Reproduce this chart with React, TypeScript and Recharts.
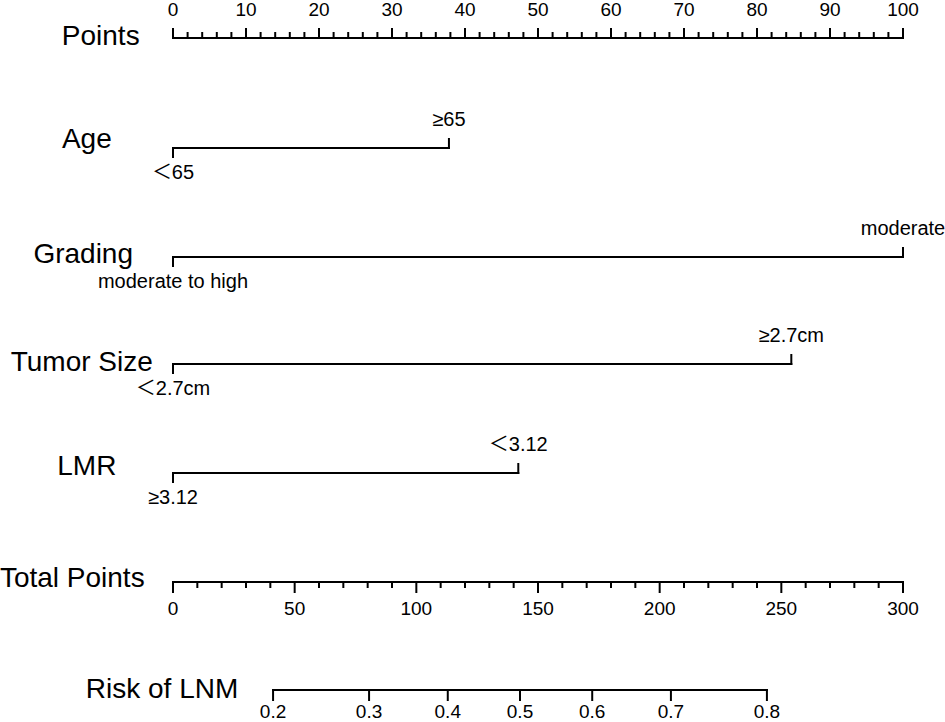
import React from 'react';
import { LineChart, XAxis, YAxis, ReferenceLine, ReferenceDot } from 'recharts';

// ---- data ----
const pointsTicks = [0, 10, 20, 30, 40, 50, 60, 70, 80, 90, 100];
const variables = ['Age', 'Grading', 'Tumor Size', 'LMR'];
const lowLabels = ['＜65', 'moderate to high', '＜2.7cm', '≥3.12'];
const highLabels = ['≥65', 'moderate', '≥2.7cm', '＜3.12'];
const highPoints = [37.8, 100, 84.7, 47.3];
const totalTicks = [0, 50, 100, 150, 200, 250, 300];
const riskTicks = [0.2, 0.3, 0.4, 0.5, 0.6, 0.7, 0.8];
const riskIntercept = 142.6; // total points at risk 0.5
const riskSlope = 73.2; // total points per logit unit

// ---- layout ----
const W = 945;
const H = 722;
const FONT = "Arial, 'Liberation Sans', 'Noto Sans CJK SC', sans-serif";
const rowY = { points: 38, vars: [148, 257, 364, 473], total: 582, risk: 690 };
const nameX = { points: -9.9, vars: [-11.8, -12.3, -12.5, -11.8], total: -13.8, risk: -1.5 };
const nameY = { points: 35, vars: [138, 253, 361, 465], total: 577, risk: 688 };
const NAME_SIZE = 28;
const LABEL_SIZE = 20;
const TICK_SIZE = 19;
const SW = 2;

const toX = (tp: number) => tp / 3;
const riskX = (p: number) => toX(riskIntercept + riskSlope * Math.log(p / (1 - p)));

const seg = (key: string, x1: number, y1: number, x2: number, y2: number) => (
  <ReferenceLine
    key={key}
    segment={[{ x: x1, y: y1 }, { x: x2, y: y2 }]}
    stroke="#000"
    strokeWidth={SW}
    strokeLinecap="square"
    ifOverflow="visible"
  />
);

const txt = (key: string, x: number, y: number, value: string, size: number) => (
  <ReferenceDot
    key={key}
    x={x}
    y={y}
    r={0}
    stroke="none"
    fill="none"
    ifOverflow="visible"
    label={{ value, position: 'center', fill: '#000', fontSize: size, fontFamily: FONT }}
  />
);

export default function App() {
  const els: React.ReactNode[] = [];
  // Points axis
  els.push(seg('p-line', 0, rowY.points, 100, rowY.points));
  for (let v = 0; v <= 100; v += 2) {
    const major = v % 10 === 0;
    els.push(seg('p-t' + v, v, rowY.points, v, rowY.points - (major ? 9 : 5)));
  }
  pointsTicks.forEach((v) => els.push(txt('p-l' + v, v, 9, String(v), TICK_SIZE)));
  els.push(txt('p-name', nameX.points, nameY.points, 'Points', NAME_SIZE));

  // variables
  variables.forEach((name, i) => {
    const y = rowY.vars[i];
    const hx = highPoints[i];
    els.push(seg('v-line' + i, 0, y, hx, y));
    els.push(seg('v-lt' + i, 0, y, 0, y + 9));
    els.push(seg('v-ht' + i, hx, y, hx, y - 9));
    els.push(txt('v-low' + i, 0, y + 24, lowLabels[i], LABEL_SIZE));
    els.push(txt('v-high' + i, hx, y - 29, highLabels[i], LABEL_SIZE));
    els.push(txt('v-name' + i, nameX.vars[i], nameY.vars[i], name, NAME_SIZE));
  });

  // Total points axis
  els.push(seg('t-line', 0, rowY.total, 100, rowY.total));
  for (let v = 0; v <= 300; v += 10) {
    const major = v % 50 === 0;
    els.push(seg('t-t' + v, toX(v), rowY.total, toX(v), rowY.total + (major ? 10 : 5)));
  }
  totalTicks.forEach((v) => els.push(txt('t-l' + v, toX(v), rowY.total + 26, String(v), TICK_SIZE)));
  els.push(txt('t-name', nameX.total, nameY.total, 'Total Points', NAME_SIZE));

  // Risk axis
  els.push(seg('r-line', riskX(riskTicks[0]), rowY.risk, riskX(riskTicks[riskTicks.length - 1]), rowY.risk));
  riskTicks.forEach((p) => {
    els.push(seg('r-t' + p, riskX(p), rowY.risk, riskX(p), rowY.risk + 10));
    els.push(txt('r-l' + p, riskX(p), rowY.risk + 21, p.toFixed(1), TICK_SIZE));
  });
  els.push(txt('r-name', nameX.risk, nameY.risk, 'Risk of LNM', NAME_SIZE));

  return (
    <div style={{ position: 'absolute', left: 0, top: 0, width: W, height: H, background: '#fff' }}>
      <LineChart
        width={W}
        height={H}
        data={[]}
        margin={{ top: 0, right: 42, bottom: 0, left: 173 }}
      >
        <XAxis type="number" dataKey="x" domain={[0, 100]} hide allowDataOverflow />
        <YAxis type="number" dataKey="y" domain={[0, H]} reversed hide width={0} allowDataOverflow />
        {els}
      </LineChart>
    </div>
  );
}
